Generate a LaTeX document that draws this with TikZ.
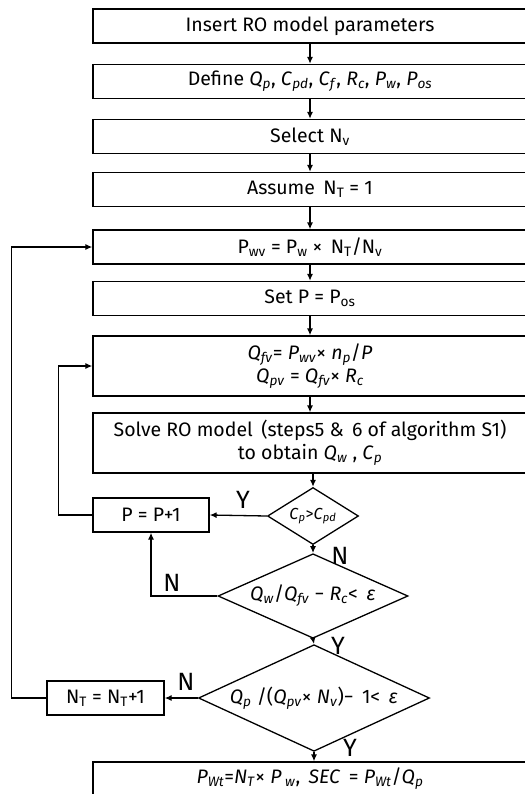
\documentclass[tikz,border=0pt]{standalone}
\usepackage{fontspec}
\setmainfont{Fira Sans}
\newfontfamily\grk{Fira Sans}
\usetikzlibrary{arrows.meta,shapes.geometric}
\newcommand\vi[2]{\textit{#1}\textsubscript{\textit{#2}}}
\newcommand\vu[2]{#1\textsubscript{#2}}
\newcommand\eps{{\grk\itshape ε}}
\begin{document}
\begin{tikzpicture}[x=1bp,y=-1bp,
  every node/.style={font=\fontsize{19.5bp}{23bp}\selectfont},
  box/.style={draw,line width=1.3bp,minimum width=434bp,minimum height=34bp,inner sep=0pt,align=center},
  tallbox/.style={box,minimum height=60bp},
  smallbox/.style={draw,line width=1.3bp,minimum height=34bp,inner sep=0pt},
  dec/.style={draw,diamond,line width=1.3bp,inner sep=0pt,aspect=2},
  lbl/.style={font=\fontsize{25bp}{27bp}\selectfont,inner sep=0pt},
  arr/.style={line width=1.3bp,-{Latex[length=7bp,width=6bp]}},
  ln/.style={line width=1.3bp}]
\useasboundingbox (0,0) rectangle (525,794);
\node[box] (b1) at (310,26) {Insert RO model parameters};
\node[box] (b2) at (310,81.5) {Define \vi{Q}{p}, \vi{C}{pd}, \vi{C}{f}, \vi{R}{c}, \vi{P}{w}, \vi{P}{os}};
\node[box] (b3) at (310,136.5) {Select \vu{N}{v}};
\node[box] (b4) at (310,189.5) {Assume\, \vu{N}{T} = 1};
\node[box] (b5) at (310,247) {\vu{P}{wv} = \vu{P}{w} × \,\vu{N}{T}/\vu{N}{v}};
\node[box] (b6) at (310,298.5) {Set P = \vu{P}{os}};
\node[tallbox] (b7) at (310,366) {\vi{Q}{fv}= \vi{P}{wv}× \vi{n}{p}/\textit{P}\\ \vi{Q}{pv} = \vi{Q}{fv}× \vi{R}{c}};
\node[tallbox] (b8) at (310,443) {Solve RO model\, (steps5 \& \,6 of algorithm S1)\\ to obtain \vi{Q}{w} , \vi{C}{p}};
\node[dec,minimum width=91bp,minimum height=57bp,font=\fontsize{16bp}{19bp}\selectfont] (d1) at (313,516) {\vi{C}{p}>\vi{C}{pd}};
\node[smallbox,minimum width=116bp] (pb) at (151,515) {P = P+1};
\node[dec,minimum width=190bp,minimum height=73bp] (d2) at (313,596) {\vi{Q}{w}/\vi{Q}{fv} − \vi{R}{c}< \,\eps};
\node[dec,minimum width=231bp,minimum height=82bp] (d3) at (314,698) {\vi{Q}{p} /(\vi{Q}{pv}× \vi{N}{v})− \,1< \,\eps};
\node[smallbox,minimum width=117bp] (nt) at (105.5,698) {\vu{N}{T} = \vu{N}{T}+1};
\node[box] (b9) at (310,779) {\vi{P}{Wt}=\vi{N}{T}× \vi{P}{ w}, \,\textit{SEC} \,= \vi{P}{Wt}/\vi{Q}{p}};
\foreach \a/\b in {b1/b2,b2/b3,b3/b4,b4/b5,b5/b6,b6/b7,b7/b8}
  \draw[arr] (\a.south) -- (\b.north);
\draw[arr] (b8.south -| d1.north) -- (d1.north);
\draw[arr] (d1.west) -- (pb.east);
\node[lbl] (y1) at (243,500) {Y};
\draw[arr] (pb.west) -- ++(-34,0) coordinate (c1) |- (b7.west);
\draw[arr] (d1.south) -- (d2.north);
\node[lbl] (n1) at (340,556) {N};
\draw[arr] (d2.west) -| (pb.south);
\node[lbl] (n2) at (172,583) {N};
\draw[arr] (d2.south) -- (d3.north);
\node[lbl] (y2) at (338,646) {Y};
\draw[arr] (d3.west) -- (nt.east);
\node[lbl] (n3) at (186,682) {N};
\draw[arr] (nt.west) -- ++(-35,0) coordinate (c2) |- (b5.west);
\draw[arr] (d3.south) -- (d3.south |- b9.north);
\node[lbl] (y3) at (350,748) {Y};
\end{tikzpicture}
\end{document}
